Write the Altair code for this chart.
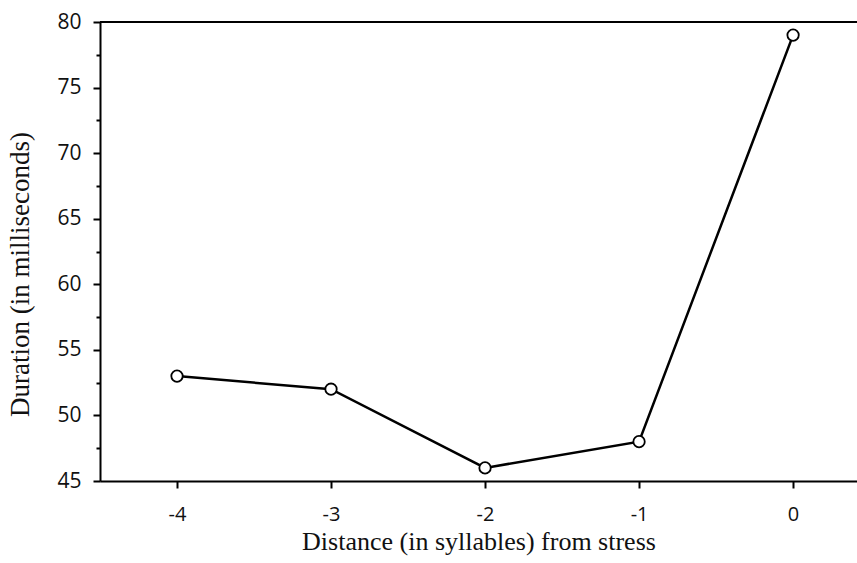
import altair as alt
import pandas as pd

distance = [-4, -3, -2, -1, 0]
duration = [53, 52, 46, 48, 79]
x_ticks = [-4, -3, -2, -1, 0]
y_ticks = [45, 47.5, 50, 52.5, 55, 57.5, 60, 62.5, 65, 67.5, 70, 72.5, 75, 77.5, 80]

df = pd.DataFrame({"distance": distance, "duration": duration})

W, H = 757, 459

x = alt.X("distance:Q",
          scale=alt.Scale(domain=[-4.5, 0.415], nice=False, zero=False),
          axis=alt.Axis(values=x_ticks, title="Distance (in syllables) from stress",
                        labelExpr="'' + datum.value",
                        tickSize=7, tickWidth=2, domainWidth=2, domainColor="black",
                        tickColor="black", labelPadding=16, labelFontSize=20,
                        labelFont="Open Sans", labelColor="#111", grid=False,
                        titleFont="Liberation Serif", titleFontSize=26,
                        titleFontWeight="normal", titleColor="#111", titlePadding=4))
y = alt.Y("duration:Q",
          scale=alt.Scale(domain=[45, 80], nice=False, zero=False),
          axis=alt.Axis(values=y_ticks, title="Duration (in milliseconds)",
                        labelExpr="datum.value % 5 === 0 ? datum.label : ''",
                        tickSize={"condition": {"test": "datum.value % 5 === 0", "value": 7}, "value": 4},
                        tickWidth=2, domainWidth=2, domainColor="black",
                        tickColor="black", labelPadding=12, labelFontSize=21,
                        labelFont="Open Sans", labelColor="#111", grid=False,
                        titleFont="Liberation Serif", titleFontSize=27,
                        titleFontWeight="normal", titleColor="#111", titlePadding=22,
                        titleY=252))

base = alt.Chart(df).encode(x=x, y=y)
line = base.mark_line(color="black", strokeWidth=2.5)
pts = base.mark_point(shape="circle", size=130, filled=False, color="black",
                      strokeWidth=1.8, fill="white", fillOpacity=1, opacity=1)
top = alt.Chart(df).mark_rule(color="black", strokeWidth=2).encode(
    x=alt.value(0), x2=alt.value(W), y=alt.value(0))

chart = alt.layer(line, pts, top).properties(
    width=W, height=H,
    autosize=alt.AutoSizeParams(type="none"),
    padding={"left": 100, "top": 22, "right": 0, "bottom": 82},
    background="white",
).configure_view(stroke=None)

chart.save("out.html", embed_options={"renderer": "svg", "actions": False})
